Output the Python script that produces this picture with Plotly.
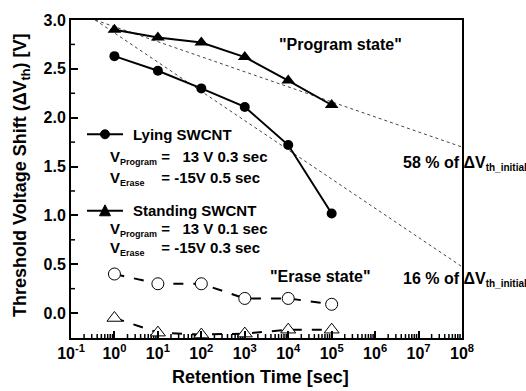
import plotly.graph_objects as go

# ---------------- data ----------------
retention_time = [1, 10, 100, 1e3, 1e4, 1e5]
lying_program = [2.63, 2.48, 2.30, 2.11, 1.72, 1.02]
standing_program = [2.90, 2.82, 2.77, 2.62, 2.38, 2.13]
lying_erase = [0.40, 0.30, 0.30, 0.15, 0.15, 0.09]
standing_erase = [-0.05, -0.20, -0.22, -0.21, -0.17, -0.17]

guide_x = [0.36, 1e8]
guide58_y = [3.0, 1.70]
guide16_y = [3.0, 0.475]

xtick_vals = [1e-1, 1, 10, 1e2, 1e3, 1e4, 1e5, 1e6, 1e7, 1e8]
xtick_text = ["10<sup>-1</sup>", "10<sup>0</sup>", "10<sup>1</sup>", "10<sup>2</sup>",
              "10<sup>3</sup>", "10<sup>4</sup>", "10<sup>5</sup>", "10<sup>6</sup>",
              "10<sup>7</sup>", "10<sup>8</sup>"]
xminor_vals = [m * 10 ** e for e in range(-1, 8) for m in range(2, 10)]
ytick_vals = [0.0, 0.5, 1.0, 1.5, 2.0, 2.5, 3.0]
yminor_vals = [0.25, 0.75, 1.25, 1.75, 2.25, 2.75]

# ---------------- layout helpers ----------------
W, H = 526, 391
L, R, T, B = 71, 462, 18, 338
FONT = "Liberation Sans"
MAJ, MIN = 7, 4  # tick lengths in px


def px(x):
    return (x - L) / (R - L)


def py(y):
    return (B - y) / (B - T)


fig = go.Figure()

# dotted guide lines
for gy in (guide58_y, guide16_y):
    fig.add_trace(go.Scatter(x=guide_x, y=gy, mode="lines",
                             line=dict(color="#444", width=1, dash="dot"),
                             showlegend=False, hoverinfo="skip"))

fig.add_trace(go.Scatter(x=retention_time, y=lying_program, mode="lines+markers",
                         line=dict(color="black", width=2),
                         marker=dict(symbol="circle", size=10, color="black"),
                         showlegend=False))
fig.add_trace(go.Scatter(x=retention_time, y=standing_program, mode="lines+markers",
                         line=dict(color="black", width=2),
                         marker=dict(symbol="triangle-up", size=12, color="black"),
                         showlegend=False))
fig.add_trace(go.Scatter(x=retention_time, y=lying_erase, mode="lines+markers",
                         line=dict(color="black", width=2, dash="10px,10px"),
                         marker=dict(symbol="circle", size=12, color="white",
                                     line=dict(width=1, color="black")),
                         showlegend=False))
fig.add_trace(go.Scatter(x=retention_time, y=standing_erase, mode="lines+markers",
                         line=dict(color="black", width=2, dash="10px,10px"),
                         marker=dict(symbol="triangle-up", size=13, color="white",
                                     line=dict(width=1, color="black")),
                         showlegend=False))

shapes = []
# minor tick marks (inside), placed through the axes' scales
for v in xminor_vals:
    shapes.append(dict(type="line", xref="x", yref="paper", layer="below",
                       x0=v, x1=v, y0=0, y1=MIN / (B - T),
                       line=dict(color="black", width=1.5)))
for v in yminor_vals:
    shapes.append(dict(type="line", xref="paper", yref="y", layer="below",
                       x0=0, x1=MIN / (R - L), y0=v, y1=v,
                       line=dict(color="black", width=1.5)))

# legend samples
for yy in (133, 210):
    shapes.append(dict(type="line", xref="paper", yref="paper",
                       x0=px(87), x1=px(123), y0=py(yy), y1=py(yy),
                       line=dict(color="black", width=2)))
shapes.append(dict(type="circle", xref="paper", yref="paper",
                   x0=px(100.5), x1=px(109.5), y0=py(137.5), y1=py(128.5),
                   fillcolor="black", line=dict(color="black", width=1)))
shapes.append(dict(type="path", xref="paper", yref="paper",
                   path=f"M {px(99.5)} {py(215)} L {px(110.5)} {py(215)} L {px(105)} {py(204)} Z",
                   fillcolor="black", line=dict(color="black", width=1)))

annotations = []


def add_text(text, x, y, size, xanchor="left", yanchor="middle", angle=0):
    annotations.append(dict(text=text, xref="paper", yref="paper",
                            x=px(x), y=py(y), xanchor=xanchor, yanchor=yanchor,
                            showarrow=False, textangle=angle,
                            font=dict(family=FONT, size=size, color="black", weight="bold")))


def sub(t, s=9):
    return f"<sub><span style='font-size:{s}px'>{t}</span></sub>"


add_text("Lying SWCNT", 131, 133, 15)
add_text("V" + sub("Program") + " =   13 V 0.3 sec", 108, 156, 15)
add_text("V" + sub("Erase") + "    = -15V 0.5 sec", 108, 177, 15)
add_text("Standing SWCNT", 131, 210, 15)
add_text("V" + sub("Program") + " =   13 V 0.1 sec", 108, 229, 15)
add_text("V" + sub("Erase") + "    = -15V 0.3 sec", 108, 248, 15)
add_text("\"Program state\"", 340, 43, 16, xanchor="center")
add_text("\"Erase state\"", 320, 276, 16, xanchor="center")
add_text("58 % of ΔV" + sub("th_initial", 10), 401, 162, 16)
add_text("16 % of ΔV" + sub("th_initial", 10), 401, 279, 16)
add_text("Threshold Voltage Shift (ΔV<sub>th</sub>) [V]", 21, 174, 18,
         xanchor="center", angle=-90)
add_text("Retention Time [sec]", 260, 377, 18, xanchor="center")

fig.update_layout(
    width=W, height=H,
    margin=dict(l=L, r=W - R, t=T, b=H - B),
    paper_bgcolor="white", plot_bgcolor="white",
    font=dict(family=FONT, size=15, color="black", weight="bold"),
    shapes=shapes, annotations=annotations,
    showlegend=False,
)
fig.update_xaxes(type="log", range=[-1, 8], tickmode="array", tickvals=xtick_vals,
                 ticktext=xtick_text,
                 ticks="inside", ticklen=MAJ, tickwidth=2, tickcolor="black",
                 showgrid=False, zeroline=False,
                 showline=True, linecolor="black", linewidth=2, mirror=True,
                 tickfont=dict(family=FONT, size=16, weight="bold"))
fig.update_yaxes(range=[-0.255, 3.0], tickmode="array", tickvals=ytick_vals,
                 tickformat=".1f",
                 ticks="inside", ticklen=MAJ, tickwidth=2, tickcolor="black",
                 showgrid=False, zeroline=False,
                 showline=True, linecolor="black", linewidth=2, mirror=True,
                 tickfont=dict(family=FONT, size=16, weight="bold"))

fig.write_html("out.html")
